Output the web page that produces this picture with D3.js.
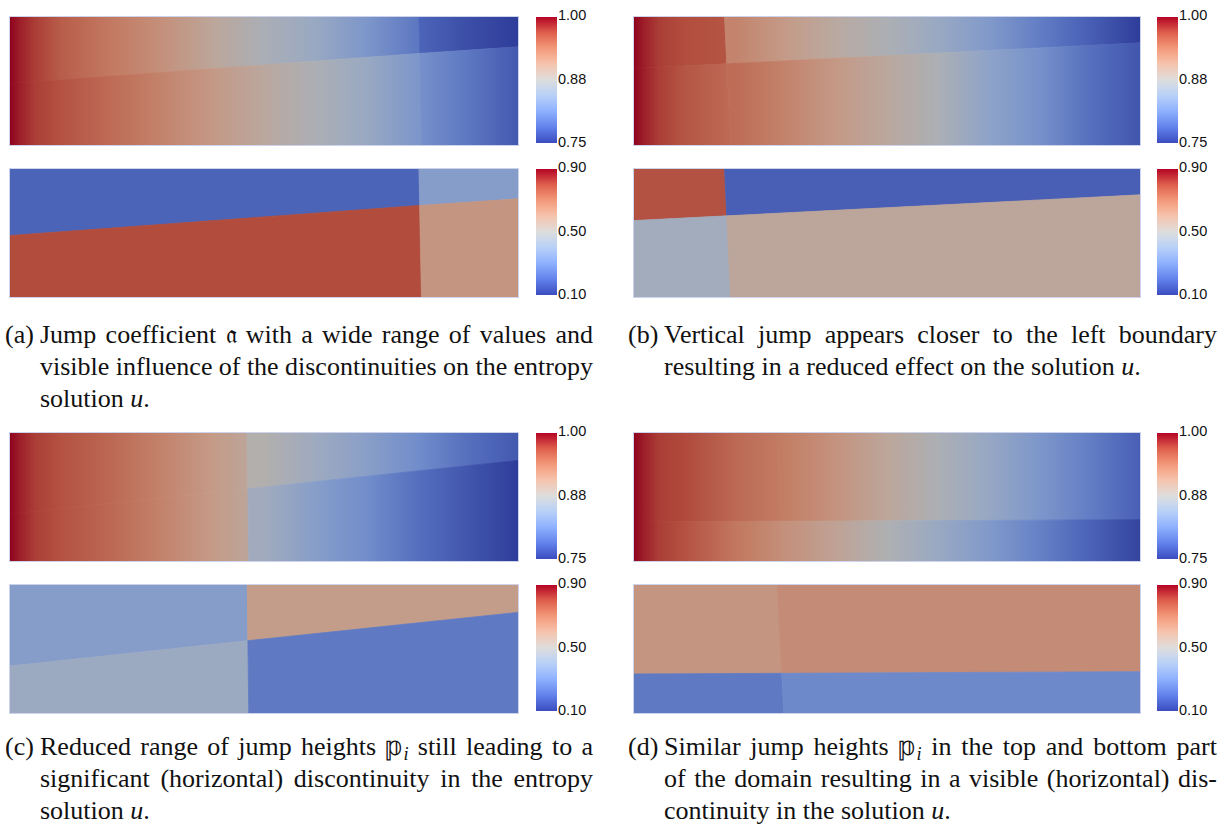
<!DOCTYPE html>
<html><head><meta charset="utf-8">
<script src="https://cdn.jsdelivr.net/npm/d3@7"></script>
<style>body{margin:0;background:#fff} svg{display:block}</style>
</head><body><svg id="c" width="1226" height="831"></svg>
<script>
// ---------------- DATA ----------------
const panelIds = ["a", "b", "c", "d"];
// colour-bar ranges and ticks
const uDomain = [0.75, 1.00];
const uTickValues = [0.75, 0.875, 1.00];
const uTickLabels = ["0.75", "0.88", "1.00"];
const kDomain = [0.10, 0.90];
const kTickValues = [0.10, 0.50, 0.90];
const kTickLabels = ["0.10", "0.50", "0.90"];

// interfaces in domain coordinates (fraction of width / height)
const vertTop    = [0.805, 0.179, 0.467, 0.283];
const vertBot    = [0.810, 0.191, 0.470, 0.296];
const horizLeft  = [0.520, 0.403, 0.633, 0.695];
const horizMid   = [0.285, 0.366, 0.435, 0.690];
const horizRight = [0.233, 0.202, 0.214, 0.677];

// jump coefficient in the four sub-domains (panels a,b,c,d)
const coefTL = [0.19, 0.79, 0.36, 0.62];
const coefTR = [0.36, 0.18, 0.60, 0.65];
const coefBL = [0.80, 0.45, 0.43, 0.25];
const coefBR = [0.62, 0.56, 0.25, 0.29];

// entropy solution u sampled along x in each sub-domain
const xStops = [0, 0.02, 0.05, 0.1, 0.2, 0.3, 0.4, 0.5, 0.6, 0.7, 0.8, 0.9, 1.0];
const uTL_a = [1.00, 0.988, 0.975, 0.958, 0.938, 0.918, 0.893, 0.868, 0.850, 0.825, 0.795, null, null];
const uTR_a = [null, null, null, null, null, null, null, null, null, null, 0.780, 0.763, 0.750];
const uBL_a = [1.00, 0.988, 0.975, 0.965, 0.948, 0.930, 0.910, 0.890, 0.870, 0.850, 0.825, null, null];
const uBR_a = [null, null, null, null, null, null, null, null, null, null, 0.818, 0.795, 0.770];
const uTL_b = [1.00, 0.988, 0.975, 0.968, 0.963, null, null, null, null, null, null, null, null];
const uTR_b = [null, null, null, null, 0.930, 0.908, 0.888, 0.870, 0.850, 0.828, 0.800, 0.775, 0.750];
const uBL_b = [1.00, 0.988, 0.975, 0.963, 0.948, null, null, null, null, null, null, null, null];
const uBR_b = [null, null, null, null, 0.948, 0.930, 0.910, 0.890, 0.870, 0.840, 0.818, 0.788, 0.768];
const uTL_c = [1.00, 0.988, 0.975, 0.965, 0.950, 0.930, 0.908, 0.888, null, null, null, null, null];
const uTR_c = [null, null, null, null, null, null, null, 0.878, 0.855, 0.835, 0.813, 0.788, 0.770];
const uBL_c = [1.00, 0.988, 0.975, 0.965, 0.950, 0.930, 0.908, 0.888, null, null, null, null, null];
const uBR_c = [null, null, null, null, null, null, null, 0.858, 0.833, 0.813, 0.788, 0.768, 0.750];
const uTL_d = [1.00, 0.988, 0.975, 0.970, 0.950, 0.935, 0.915, 0.893, 0.870, 0.848, 0.825, 0.800, 0.775];
const uTR_d = [1.00, 0.988, 0.975, 0.970, 0.950, 0.935, 0.915, 0.893, 0.870, 0.848, 0.825, 0.800, 0.775];
const uBL_d = [1.00, 0.988, 0.975, 0.965, 0.940, 0.918, 0.898, 0.873, 0.850, 0.828, 0.803, 0.778, 0.755];
const uBR_d = [1.00, 0.988, 0.975, 0.965, 0.940, 0.918, 0.898, 0.873, 0.850, 0.828, 0.803, 0.778, 0.755];

// captions
const captionLabels = ["(a)", "(b)", "(c)", "(d)"];
const captionA = ["Jump coefficient 𝔞 with a wide range of values and",
                  "visible influence of the discontinuities on the entropy",
                  "solution $u$."];
const captionB = ["Vertical jump appears closer to the left boundary",
                  "resulting in a reduced effect on the solution $u$."];
const captionC = ["Reduced range of jump heights 𝕡_i still leading to a",
                  "significant (horizontal) discontinuity in the entropy",
                  "solution $u$."];
const captionD = ["Similar jump heights 𝕡_i in the top and bottom part",
                  "of the domain resulting in a visible (horizontal) dis-",
                  "continuity in the solution $u$."];

// ---------------- DRAWING ----------------
const uTL = [uTL_a, uTL_b, uTL_c, uTL_d], uTR = [uTR_a, uTR_b, uTR_c, uTR_d];
const uBL = [uBL_a, uBL_b, uBL_c, uBL_d], uBR = [uBR_a, uBR_b, uBR_c, uBR_d];
const captions = [captionA, captionB, captionC, captionD];

const svg = d3.select("#c");
const defs = svg.append("defs");

const cwColors = ["#3b4cc0", "#6282ea", "#8db0fe", "#b8d0f9", "#dddddd", "#f5c4ad", "#f49a7b", "#de604d", "#b40426"];
const cw = d3.scaleLinear()
  .domain(cwColors.map((c, i) => i / (cwColors.length - 1)))
  .range(cwColors).interpolate(d3.interpolateRgb).clamp(true);
const SHADE = 0.8;
function lit(t) { const c = d3.rgb(cw(t)); return d3.rgb(c.r * SHADE, c.g * SHADE, c.b * SHADE).formatHex(); }

const uNorm = d3.scaleLinear().domain(uDomain).range([0, 1]);
const kNorm = d3.scaleLinear().domain(kDomain).range([0, 1]);

const colLayout = [
  { field: [10, 518], bar: [536, 557], label: 5, indent: 40, right: 593 },
  { field: [634, 1140], bar: [1157, 1178], label: 628, indent: 664, right: 1217 }
];
const rowLayout = [
  { u: [17, 145], k: [169, 297], base: [343, 375, 407] },
  { u: [433, 561], k: [585, 713], base: [755, 787, 819] }
];

// colour bar gradient
const cbg = defs.append("linearGradient").attr("id", "cbar")
  .attr("x1", 0).attr("y1", 1).attr("x2", 0).attr("y2", 0);
d3.range(0, 1.0001, 0.02).forEach(t => cbg.append("stop").attr("offset", t).attr("stop-color", cw(t)));

function regions(i) {
  const vt = vertTop[i], vb = vertBot[i], hl = horizLeft[i], hm = horizMid[i], hr = horizRight[i];
  const cx = vt + (vb - vt) * hm;
  return {
    TL: [[0, 0], [vt, 0], [cx, hm], [0, hl]],
    TR: [[vt, 0], [1, 0], [1, hr], [cx, hm]],
    BL: [[0, hl], [cx, hm], [vb, 1], [0, 1]],
    BR: [[cx, hm], [1, hr], [1, 1], [vb, 1]]
  };
}

panelIds.forEach((pid, i) => {
  const col = colLayout[i % 2], row = rowLayout[Math.floor(i / 2)];
  const reg = regions(i);
  const x = d3.scaleLinear().domain([0, 1]).range(col.field);

  // ---- u field ----
  const yU = d3.scaleLinear().domain([0, 1]).range(row.u);
  const line = d3.line().x(d => x(d[0])).y(d => yU(d[1]));
  defs.append("clipPath").attr("id", "clipU" + pid).append("rect")
    .attr("x", col.field[0]).attr("y", row.u[0])
    .attr("width", col.field[1] - col.field[0]).attr("height", row.u[1] - row.u[0]);
  const gU = svg.append("g").attr("clip-path", `url(#clipU${pid})`);
  const uSets = { TL: uTL[i], TR: uTR[i], BL: uBL[i], BR: uBR[i] };
  Object.keys(uSets).forEach(key => {
    const gid = `g_${pid}_${key}`;
    const g = defs.append("linearGradient").attr("id", gid).attr("gradientUnits", "userSpaceOnUse")
      .attr("x1", col.field[0]).attr("x2", col.field[1]).attr("y1", 0).attr("y2", 0);
    xStops.forEach((xs, j) => {
      const v = uSets[key][j];
      if (v !== null) g.append("stop").attr("offset", xs).attr("stop-color", lit(uNorm(v)));
    });
    gU.append("path").attr("d", line(reg[key]) + "Z")
      .attr("fill", `url(#${gid})`).attr("stroke", `url(#${gid})`).attr("stroke-width", 0.8);
  });
  svg.append("rect").attr("x", col.field[0] - 0.5).attr("y", row.u[0] - 0.5)
    .attr("width", col.field[1] - col.field[0] + 1).attr("height", row.u[1] - row.u[0] + 1)
    .attr("fill", "none").attr("stroke", "#cdd3ea").attr("stroke-width", 1);

  // ---- coefficient field ----
  const yK = d3.scaleLinear().domain([0, 1]).range(row.k);
  const lineK = d3.line().x(d => x(d[0])).y(d => yK(d[1]));
  defs.append("clipPath").attr("id", "clipK" + pid).append("rect")
    .attr("x", col.field[0]).attr("y", row.k[0])
    .attr("width", col.field[1] - col.field[0]).attr("height", row.k[1] - row.k[0]);
  const gK = svg.append("g").attr("clip-path", `url(#clipK${pid})`);
  const kSets = { TL: coefTL[i], TR: coefTR[i], BL: coefBL[i], BR: coefBR[i] };
  Object.keys(kSets).forEach(key => {
    const c = lit(kNorm(kSets[key]));
    gK.append("path").attr("d", lineK(reg[key]) + "Z")
      .attr("fill", c).attr("stroke", c).attr("stroke-width", 0.8);
  });
  svg.append("rect").attr("x", col.field[0] - 0.5).attr("y", row.k[0] - 0.5)
    .attr("width", col.field[1] - col.field[0] + 1).attr("height", row.k[1] - row.k[0] + 1)
    .attr("fill", "none").attr("stroke", "#cdd3ea").attr("stroke-width", 1);

  // ---- colour bars ----
  [[row.u, uDomain, uTickValues, uTickLabels], [row.k, kDomain, kTickValues, kTickLabels]].forEach(([ry, dom, tv, tl]) => {
    const top = ry[0], bot = ry[1] - 2;
    svg.append("rect").attr("x", col.bar[0]).attr("y", top)
      .attr("width", col.bar[1] - col.bar[0]).attr("height", bot - top).attr("fill", "url(#cbar)");
    const s = d3.scaleLinear().domain(dom).range([bot - 1, top - 2]);
    const ax = svg.append("g").attr("transform", `translate(${col.bar[1]},0)`)
      .call(d3.axisRight(s).tickValues(tv).tickFormat((d, j) => tl[j]).tickSize(0).tickPadding(1));
    ax.select(".domain").remove();
    ax.selectAll("text").attr("font-family", "'Liberation Sans', Arial, sans-serif")
      .attr("font-size", 14.5).attr("fill", "#111");
  });

  // ---- caption ----
  const FS = 26;
  const capG = svg.append("g").attr("font-family", "'Liberation Serif', 'Times New Roman', serif")
    .attr("font-size", FS).attr("fill", "#111");
  capG.append("text").attr("x", col.label).attr("y", row.base[0]).text(captionLabels[i]);
  const lines = captions[i];
  lines.forEach((ln, li) => {
    const words = ln.split(" ");
    const nodes = words.map(w => {
      const t = capG.append("text").attr("y", row.base[li]);
      const re = /(\$u\$)|(_i)/g;
      let last = 0, m;
      while ((m = re.exec(w)) !== null) {
        if (m.index > last) t.append("tspan").text(w.slice(last, m.index));
        if (m[1]) t.append("tspan").attr("font-style", "italic").text("u");
        if (m[2]) t.append("tspan").attr("font-style", "italic").attr("font-size", FS * 0.7).attr("dy", 5).text("i");
        last = re.lastIndex;
      }
      if (last < w.length) t.append("tspan").text(w.slice(last));
      return t;
    });
    const widths = nodes.map(n => n.node().getComputedTextLength());
    const total = d3.sum(widths);
    const justify = li < lines.length - 1;
    const gap = justify ? (col.right - col.indent - total) / (words.length - 1) : FS * 0.25;
    let cx = col.indent;
    nodes.forEach((n, j) => { n.attr("x", cx); cx += widths[j] + gap; });
  });
});
</script>
</body></html>
